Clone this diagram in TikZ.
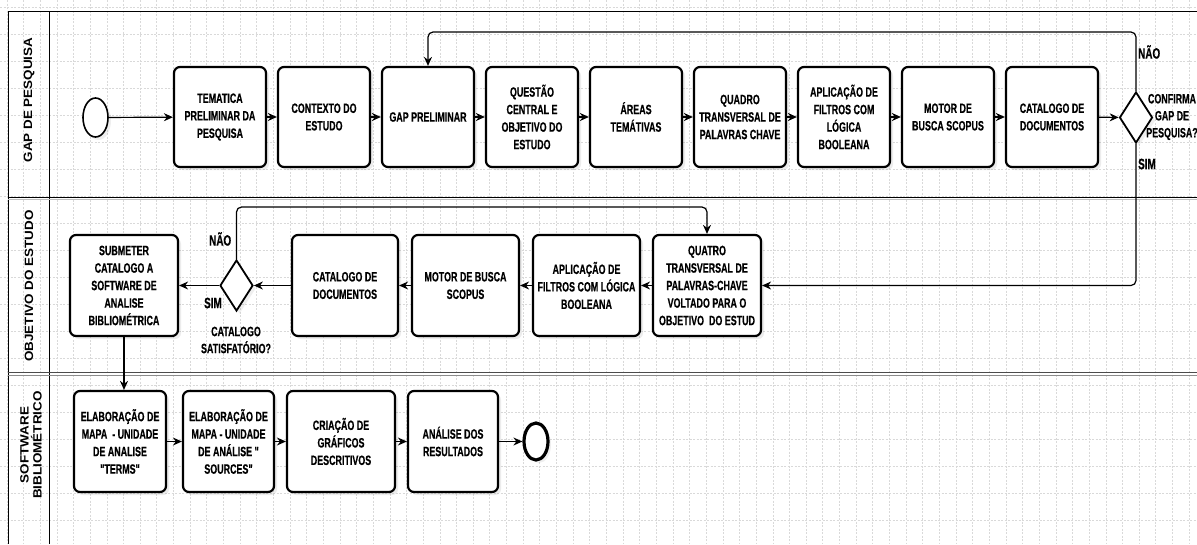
\documentclass[tikz,border=0pt]{standalone}
\usepackage{fontspec}
\setmainfont{Liberation Sans}
\newfontfamily\boxfont[FakeStretch=0.66,FakeBold=0.5]{Liberation Sans}
\newfontfamily\lanefont[FakeStretch=1.12]{Liberation Sans}
\usetikzlibrary{shapes.geometric,arrows.meta,shadows}
\begin{document}
\begin{tikzpicture}[x=1pt,y=-1pt,
  gridline/.style={draw=black!15, line width=0.6pt, dash pattern=on 2pt off 1.5pt},
  frame/.style={draw=black, line width=1pt},
  task/.style={draw=black, line width=2.2pt, rounded corners=6pt, fill=white,
    align=center, inner sep=1pt,
    font=\boxfont\bfseries\fontsize{13.5}{17.5}\selectfont,
    drop shadow={opacity=0.15, shadow xshift=3pt, shadow yshift=-3pt}},
  gate/.style={diamond, draw=black, line width=1.8pt, fill=white, inner sep=0pt,
    minimum width=33pt, minimum height=51pt,
    drop shadow={opacity=0.12, shadow xshift=3pt, shadow yshift=-3pt}},
  startev/.style={ellipse, draw=black, line width=1.6pt, fill=white, inner sep=0pt,
    minimum width=25pt, minimum height=39pt,
    drop shadow={opacity=0.12, shadow xshift=3pt, shadow yshift=-3pt}},
  endev/.style={ellipse, draw=black, line width=3.2pt, fill=white, inner sep=0pt,
    minimum width=24pt, minimum height=37pt,
    drop shadow={opacity=0.12, shadow xshift=3pt, shadow yshift=-3pt}},
  flow/.style={draw=black, line width=1.2pt, -{Stealth[length=9pt,width=8pt]}},
  lbl/.style={font=\boxfont\bfseries\fontsize{15}{17}\selectfont, inner sep=0pt},
  qlbl/.style={font=\boxfont\bfseries\fontsize{13.5}{17}\selectfont, align=center, inner sep=0pt},
  lane/.style={rotate=90, font=\lanefont\bfseries\fontsize{12}{13}\selectfont, align=center, inner sep=0pt}
]
\useasboundingbox (0,0) rectangle (1197,544);
\fill[white] (0,0) rectangle (1197,544);
% grid
\foreach \i in {0,...,71} {\draw[gridline] ({6.9+16.65*\i},0) -- ({6.9+16.65*\i},544);}
\foreach \j in {0,...,20} {\draw[gridline] (0,{7+27*\j}) -- (1197,{7+27*\j});}
% pool frame
\draw[frame] (8,11) -- (1197,11);
\draw[frame] (8,11) -- (8,544);
\draw[frame] (49,11) -- (49,544);
\draw[frame] (8,197.5) -- (1197,197.5);
\draw[draw=black!25, line width=0.8pt] (8,199.5) -- (1197,199.5);
\draw[draw=black!70, line width=1.5pt] (8,372.5) -- (1197,372.5);
\draw[draw=black!45, line width=0.8pt] (8,375.5) -- (1197,375.5);
% lane labels
\node[lane] (lane1) at (29,100) {GAP DE PESQUISA};
\node[lane] (lane2) at (29,286) {OBJETIVO DO ESTUDO};
\node[lane] (lane3) at (31,445) {SOFTWARE\\BIBLIOMÉTRICO};

% ---------- lane 1 ----------
\node[startev] (start) at (95.5,117.5) {};
\node[task, minimum width=92pt, minimum height=100pt] (t1) at (220,117) {TEMATICA\\PRELIMINAR DA\\PESQUISA};
\node[task, minimum width=92pt, minimum height=100pt] (t2) at (324,117) {CONTEXTO DO\\ESTUDO};
\node[task, minimum width=92pt, minimum height=100pt] (t3) at (428,117) {GAP PRELIMINAR};
\node[task, minimum width=92pt, minimum height=100pt] (t4) at (532,117) {QUESTÃO\\CENTRAL E\\OBJETIVO DO\\ESTUDO};
\node[task, minimum width=92pt, minimum height=100pt] (t5) at (636,117) {ÁREAS\\TEMÁTIVAS};
\node[task, minimum width=92pt, minimum height=100pt] (t6) at (740,117) {QUADRO\\TRANSVERSAL DE\\PALAVRAS CHAVE};
\node[task, minimum width=92pt, minimum height=100pt] (t7) at (844,117) {APLICAÇÃO DE\\FILTROS COM\\LÓGICA\\BOOLEANA};
\node[task, minimum width=92pt, minimum height=100pt] (t8) at (948,117) {MOTOR DE\\BUSCA SCOPUS};
\node[task, minimum width=92pt, minimum height=100pt] (t9) at (1052,117) {CATALOGO DE\\DOCUMENTOS};
\node[gate] (d1) at (1136,117.5) {};
\node[lbl, anchor=west] (nao1) at (1138,52) {NÃO};
\node[lbl, anchor=west] (sim1) at (1138,164) {SIM};
\node[qlbl] (q1) at (1172,117) {CONFIRMA\\GAP DE\\PESQUISA?};

\draw[flow] (start) -- (t1);
\draw[flow] (t1) -- (t2);
\draw[flow] (t2) -- (t3);
\draw[flow] (t3) -- (t4);
\draw[flow] (t4) -- (t5);
\draw[flow] (t5) -- (t6);
\draw[flow] (t6) -- (t7);
\draw[flow] (t7) -- (t8);
\draw[flow] (t8) -- (t9);
\draw[flow] (t9) -- (d1);
\coordinate (loop1) at (0,32);
\draw[flow, rounded corners=5pt] (d1.north) -- (d1.north |- loop1) -- (t3.north |- loop1) -- (t3.north);

% ---------- lane 2 ----------
\node[task, minimum width=108pt, minimum height=101pt] (s) at (124,285.5) {SUBMETER\\CATALOGO A\\SOFTWARE DE\\ANALISE\\BIBLIOMÉTRICA};
\node[gate] (d2) at (236.5,285.5) {};
\node[task, minimum width=106pt, minimum height=101pt] (c2) at (345,285.5) {CATALOGO DE\\DOCUMENTOS};
\node[task, minimum width=107pt, minimum height=101pt] (m2) at (465.5,285.5) {MOTOR DE BUSCA\\SCOPUS};
\node[task, minimum width=107pt, minimum height=101pt] (a2) at (586.5,285.5) {APLICAÇÃO DE\\FILTROS COM LÓGICA\\BOOLEANA};
\node[task, minimum width=108pt, minimum height=101pt] (q) at (707,285.5) {QUATRO\\TRANSVERSAL DE\\PALAVRAS-CHAVE\\VOLTADO PARA O\\OBJETIVO \ DO ESTUD};
\node[lbl, anchor=west] (nao2) at (209,239) {NÃO};
\node[lbl, anchor=west] (sim2) at (204,303) {SIM};
\node[qlbl] (q2) at (236,340) {CATALOGO\\SATISFATÓRIO?};

\draw[flow, rounded corners=5pt] (d1.south) |- (q.east);
\draw[flow] (q) -- (a2);
\draw[flow] (a2) -- (m2);
\draw[flow] (m2) -- (c2);
\draw[flow] (c2) -- (d2);
\draw[flow] (d2) -- (s);
\coordinate (loop2) at (0,207);
\draw[flow, rounded corners=5pt] (d2.north) -- (d2.north |- loop2) -- (q.north |- loop2) -- (q.north);

% ---------- lane 3 ----------
\node[task, minimum width=92pt, minimum height=101pt] (e1) at (120,441.5) {ELABORAÇÃO DE\\MAPA \ - UNIDADE\\DE ANALISE\\"TERMS"};
\node[task, minimum width=91pt, minimum height=101pt] (e2) at (228.5,441.5) {ELABORAÇÃO DE\\MAPA - UNIDADE\\DE ANÁLISE "\\SOURCES"};
\node[task, minimum width=108pt, minimum height=101pt] (e3) at (341,441.5) {CRIAÇÃO DE\\GRÁFICOS\\DESCRITIVOS};
\node[task, minimum width=90pt, minimum height=101pt] (e4) at (453,441.5) {ANÁLISE DOS\\RESULTADOS};
\node[endev] (fim) at (536,441.5) {};

\draw[flow] (s.south) -- (s.south |- e1.north);
\draw[flow] (e1) -- (e2);
\draw[flow] (e2) -- (e3);
\draw[flow] (e3) -- (e4);
\draw[flow] (e4) -- (fim);
\end{tikzpicture}
\end{document}
